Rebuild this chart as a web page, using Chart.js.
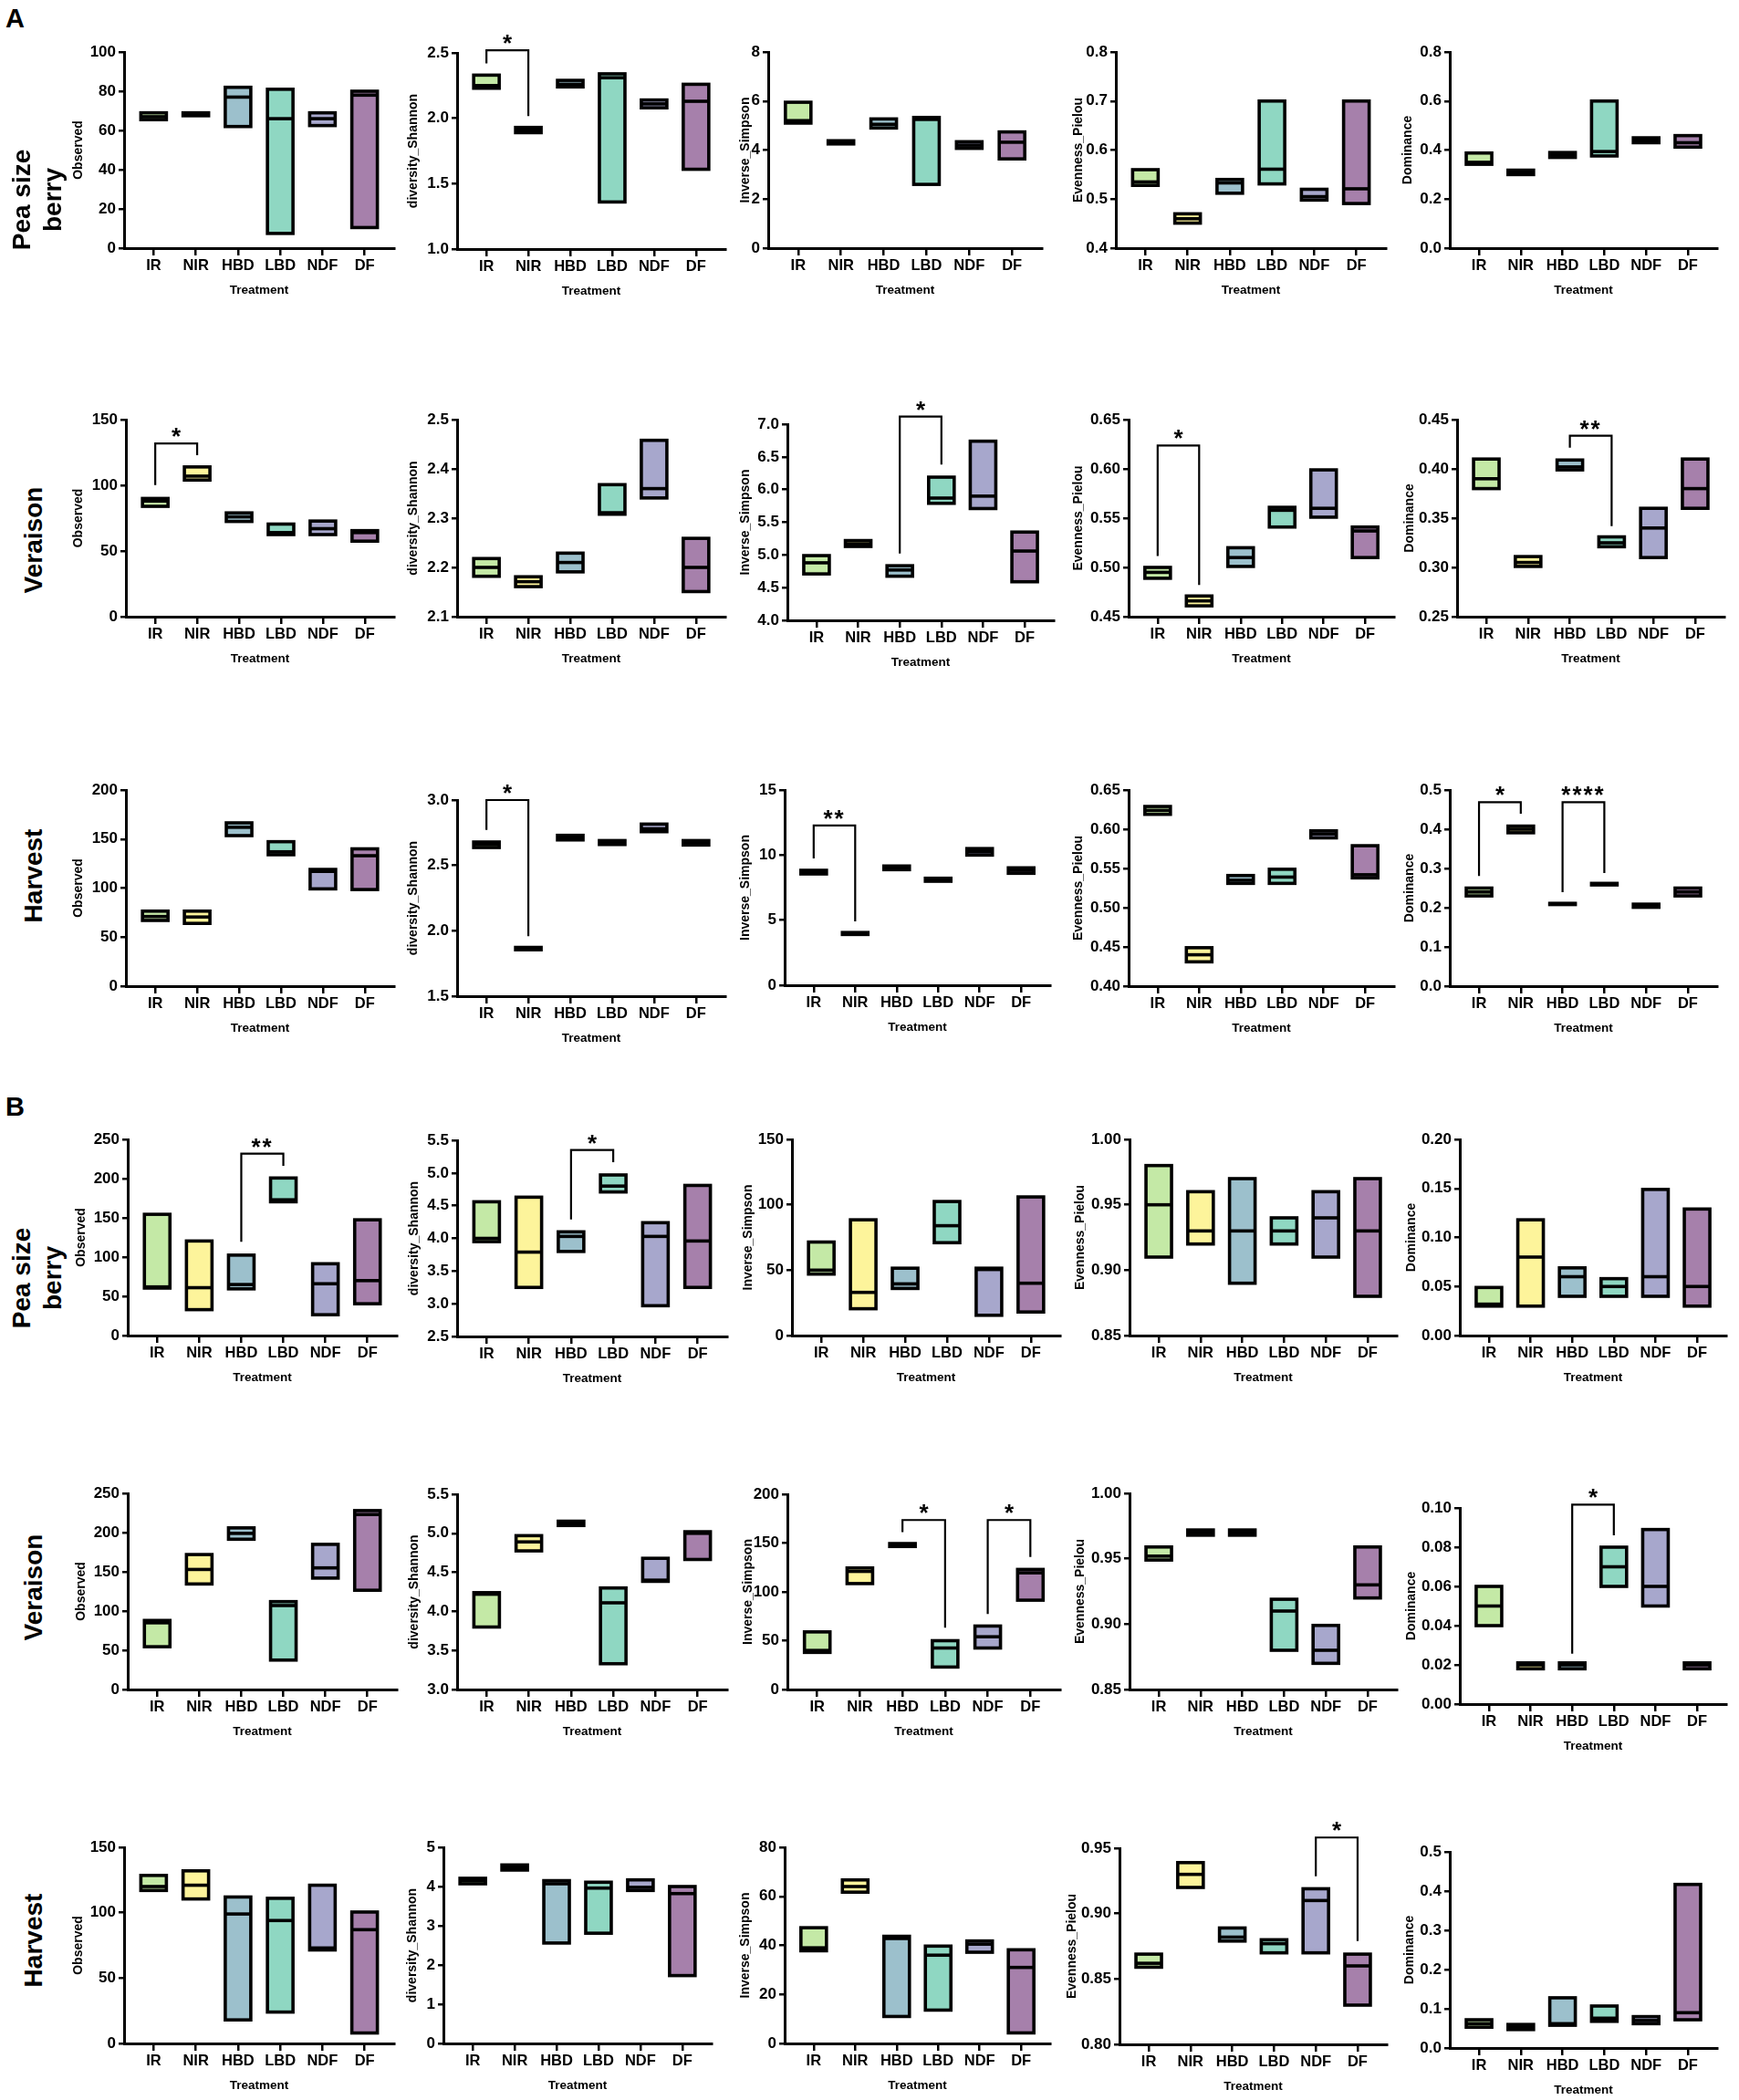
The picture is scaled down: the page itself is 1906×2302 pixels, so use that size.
<!DOCTYPE html>
<html>
<head>
<meta charset="utf-8">
<title>Alpha diversity</title>
<script src="https://cdn.jsdelivr.net/npm/chart.js@4.4.1/dist/chart.umd.min.js"></script>
<style>
  html, body { margin: 0; padding: 0; background: #fff; }
  #fig { position: relative; width: 1906px; height: 2302px; overflow: hidden; background: #fff; }
  .panel { position: absolute; }
  .letter { position: absolute; font: bold 29px 'Liberation Sans', Arial, sans-serif; line-height: 29px; color: #000; }
  .stage { position: absolute; width: 240px; height: 80px; display: flex; align-items: center; justify-content: center;
           text-align: center; transform: rotate(-90deg); font: bold 28px 'Liberation Sans', Arial, sans-serif;
           line-height: 34px; color: #000; }
</style>
</head>
<body>
<div id="fig"></div>
<script>
const treatments = ['IR', 'NIR', 'HBD', 'LBD', 'NDF', 'DF'];
const treatmentColors = ['#c4e9a6', '#fdf49b', '#9cc0cc', '#8fd7c2', '#a7a7cc', '#a680ab'];

// ---- A : pea size berry ----
const A_pea_obs = [[65.5, 69], [67.5, 69], [62, 82], [7.5, 81], [62.5, 69], [10.5, 80]];
const A_pea_obs_med = [67, 68, 77, 66, 66, 78];
const A_pea_obs_ticks = ['0', '20', '40', '60', '80', '100'];
const A_pea_sha = [[2.23, 2.33], [1.89, 1.93], [2.24, 2.29], [1.36, 2.34], [2.08, 2.14], [1.61, 2.26]];
const A_pea_sha_med = [2.25, 1.91, 2.26, 2.31, 2.11, 2.13];
const A_pea_sha_ticks = ['1.0', '1.5', '2.0', '2.5'];
const A_pea_sha_sig = [[0, 1, 2.52, 2.42, 2.016, '*']];
const A_pea_sim = [[5.1, 5.95], [4.25, 4.38], [4.9, 5.27], [2.6, 5.33], [4.07, 4.34], [3.64, 4.74]];
const A_pea_sim_med = [5.2, 4.3, 5.05, 5.25, 4.2, 4.32];
const A_pea_sim_ticks = ['0', '2', '4', '6', '8'];
const A_pea_pie = [[0.528, 0.56], [0.451, 0.47], [0.512, 0.54], [0.531, 0.7], [0.498, 0.52], [0.491, 0.7]];
const A_pea_pie_med = [0.535, 0.46, 0.533, 0.561, 0.505, 0.521];
const A_pea_pie_ticks = ['0.4', '0.5', '0.6', '0.7', '0.8'];
const A_pea_dom = [[0.342, 0.388], [0.30, 0.318], [0.37, 0.39], [0.376, 0.6], [0.43, 0.45], [0.412, 0.459]];
const A_pea_dom_med = [0.35, 0.31, 0.38, 0.394, 0.44, 0.43];
const A_pea_dom_ticks = ['0.0', '0.2', '0.4', '0.6', '0.8'];

// ---- A : veraison ----
const A_ver_obs = [[84, 90], [104, 114], [72.5, 79], [62.5, 70.5], [62.5, 72.8], [57.5, 65.5]];
const A_ver_obs_med = [88, 107, 76, 64, 67, 64];
const A_ver_obs_ticks = ['0', '50', '100', '150'];
const A_ver_obs_sig = [[0, 1, 131.9, 100.2, 122.9, '*']];
const A_ver_sha = [[2.182, 2.218], [2.161, 2.181], [2.191, 2.229], [2.308, 2.368], [2.341, 2.458], [2.151, 2.259]];
const A_ver_sha_med = [2.2, 2.171, 2.21, 2.311, 2.36, 2.2];
const A_ver_sha_ticks = ['2.1', '2.2', '2.3', '2.4', '2.5'];
const A_ver_sim = [[4.71, 4.99], [5.13, 5.22], [4.675, 4.835], [5.79, 6.19], [5.71, 6.74], [4.59, 5.35]];
const A_ver_sim_med = [4.88, 5.17, 4.77, 5.87, 5.9, 5.06];
const A_ver_sim_ticks = ['4.0', '4.5', '5.0', '5.5', '6.0', '6.5', '7.0'];
const A_ver_sim_sig = [[2, 3, 7.116, 5.023, 6.381, '*']];
const A_ver_pie = [[0.489, 0.5], [0.461, 0.471], [0.501, 0.52], [0.541, 0.561], [0.551, 0.599], [0.51, 0.541]];
const A_ver_pie_med = [0.495, 0.466, 0.51, 0.558, 0.56, 0.537];
const A_ver_pie_ticks = ['0.45', '0.50', '0.55', '0.60', '0.65'];
const A_ver_pie_sig = [[0, 1, 0.6237, 0.5115, 0.4822, '*']];
const A_ver_dom = [[0.38, 0.41], [0.301, 0.311], [0.399, 0.409], [0.321, 0.331], [0.31, 0.36], [0.36, 0.41]];
const A_ver_dom_med = [0.39, 0.305, 0.402, 0.325, 0.34, 0.38];
const A_ver_dom_ticks = ['0.25', '0.30', '0.35', '0.40', '0.45'];
const A_ver_dom_sig = [[2, 3, 0.4336, 0.4216, 0.3418, '**']];

// ---- A : harvest ----
const A_har_obs = [[67, 76.5], [64, 76.5], [153.5, 166.5], [134, 147.3], [99.2, 119], [98.5, 140]];
const A_har_obs_med = [71, 70.5, 162, 137, 117, 133];
const A_har_obs_ticks = ['0', '50', '100', '150', '200'];
const A_har_sha = [[2.637, 2.679], [1.855, 1.873], [2.695, 2.73], [2.66, 2.69], [2.758, 2.816], [2.656, 2.69]];
const A_har_sha_med = [2.66, 1.865, 2.71, 2.675, 2.78, 2.67];
const A_har_sha_ticks = ['1.5', '2.0', '2.5', '3.0'];
const A_har_sha_sig = [[0, 1, 3.0, 2.772, 1.958, '*']];
const A_har_sim = [[8.55, 8.83], [3.9, 4.05], [8.88, 9.16], [7.99, 8.22], [10.0, 10.5], [8.6, 9.02]];
const A_har_sim_med = [8.7, 3.98, 9.02, 8.1, 10.25, 8.83];
const A_har_sim_ticks = ['0', '5', '10', '15'];
const A_har_sim_sig = [[0, 1, 12.27, 9.74, 4.9, '**']];
const A_har_pie = [[0.619, 0.629], [0.431, 0.449], [0.531, 0.541], [0.531, 0.549], [0.589, 0.598], [0.538, 0.579]];
const A_har_pie_med = [0.624, 0.44, 0.535, 0.539, 0.594, 0.542];
const A_har_pie_ticks = ['0.40', '0.45', '0.50', '0.55', '0.60', '0.65'];
const A_har_dom = [[0.23, 0.25], [0.391, 0.408], [0.208, 0.211], [0.258, 0.262], [0.201, 0.209], [0.23, 0.25]];
const A_har_dom_med = [0.24, 0.4, 0.21, 0.26, 0.205, 0.24];
const A_har_dom_ticks = ['0.0', '0.1', '0.2', '0.3', '0.4', '0.5'];
const A_har_dom_sig = [[0, 1, 0.469, 0.2806, 0.4395, '*'], [2, 3, 0.469, 0.2395, 0.2884, '****']];

// ---- B : pea size berry ----
const B_pea_obs = [[60.5, 154.5], [33, 120.5], [59.5, 102.5], [170.5, 200.8], [26.5, 91.5], [40.5, 147.5]];
const B_pea_obs_med = [62, 61, 65, 173, 66, 70];
const B_pea_obs_ticks = ['0', '50', '100', '150', '200', '250'];
const B_pea_obs_sig = [[2, 3, 231.8, 119.4, 216.3, '**']];
const B_pea_sha = [[3.95, 4.56], [3.25, 4.63], [3.8, 4.1], [4.71, 4.97], [2.97, 4.24], [3.25, 4.81]];
const B_pea_sha_med = [4.0, 3.79, 4.03, 4.8, 4.03, 3.96];
const B_pea_sha_ticks = ['2.5', '3.0', '3.5', '4.0', '4.5', '5.0', '5.5'];
const B_pea_sha_sig = [[2, 3, 5.351, 4.291, 5.165, '*']];
const B_pea_sim = [[47, 71.5], [20.5, 88.5], [36, 51.5], [71, 102.5], [15.5, 51.5], [18, 106]];
const B_pea_sim_med = [50, 33, 39.5, 84, 50.5, 40];
const B_pea_sim_ticks = ['0', '50', '100', '150'];
const B_pea_pie = [[0.91, 0.98], [0.92, 0.96], [0.89, 0.97], [0.92, 0.94], [0.91, 0.96], [0.88, 0.97]];
const B_pea_pie_med = [0.95, 0.93, 0.93, 0.93, 0.94, 0.93];
const B_pea_pie_ticks = ['0.85', '0.90', '0.95', '1.00'];
const B_pea_dom = [[0.03, 0.049], [0.03, 0.118], [0.04, 0.069], [0.04, 0.058], [0.04, 0.149], [0.03, 0.129]];
const B_pea_dom_med = [0.032, 0.08, 0.06, 0.05, 0.06, 0.05];
const B_pea_dom_ticks = ['0.00', '0.05', '0.10', '0.15', '0.20'];

// ---- B : veraison ----
const B_ver_obs = [[54.5, 88], [134.5, 172], [191.5, 206], [37.5, 112], [142, 185], [126.5, 228]];
const B_ver_obs_med = [85, 153, 199, 107, 155, 223];
const B_ver_obs_ticks = ['0', '50', '100', '150', '200', '250'];
const B_ver_sha = [[3.8, 4.24], [4.775, 4.97], [5.1, 5.155], [3.33, 4.3], [4.385, 4.68], [4.665, 5.02]];
const B_ver_sha_med = [4.22, 4.89, 5.13, 4.11, 4.4, 5.0];
const B_ver_sha_ticks = ['3.0', '3.5', '4.0', '4.5', '5.0', '5.5'];
const B_ver_sim = [[38, 59], [108.5, 124.5], [146.5, 149.5], [23, 50], [42.5, 65], [91.5, 123]];
const B_ver_sim_med = [40, 121, 148, 42.5, 54, 119.5];
const B_ver_sim_ticks = ['0', '50', '100', '150', '200'];
const B_ver_sim_sig = [[2, 3, 173.6, 161.2, 63.4, '*'], [4, 5, 173.6, 77.3, 135.7, '*']];
const B_ver_pie = [[0.949, 0.959], [0.968, 0.972], [0.968, 0.972], [0.88, 0.919], [0.87, 0.899], [0.92, 0.959]];
const B_ver_pie_med = [0.952, 0.97, 0.97, 0.91, 0.88, 0.93];
const B_ver_pie_ticks = ['0.85', '0.90', '0.95', '1.00'];
const B_ver_dom = [[0.04, 0.06], [0.018, 0.021], [0.018, 0.021], [0.06, 0.08], [0.05, 0.089], [0.018, 0.021]];
const B_ver_dom_med = [0.05, 0.02, 0.02, 0.07, 0.06, 0.02];
const B_ver_dom_ticks = ['0.00', '0.02', '0.04', '0.06', '0.08', '0.10'];
const B_ver_dom_sig = [[2, 3, 0.1017, 0.0257, 0.086, '*']];

// ---- B : harvest ----
const B_har_obs = [[117, 128.5], [110.5, 132], [18, 112], [24, 111], [71.5, 121], [8, 100.5]];
const B_har_obs_med = [120, 121, 99, 94, 73, 87];
const B_har_obs_ticks = ['0', '50', '100', '150'];
const B_har_sha = [[4.07, 4.21], [4.42, 4.55], [2.56, 4.15], [2.81, 4.11], [3.9, 4.17], [1.73, 4.0]];
const B_har_sha_med = [4.15, 4.48, 4.07, 3.96, 3.98, 3.82];
const B_har_sha_ticks = ['0', '1', '2', '3', '4', '5'];
const B_har_sim = [[37.8, 47.2], [61.7, 66.7], [11, 43.7], [13.6, 39.7], [37.2, 41.8], [4.3, 38.2]];
const B_har_sim_med = [39, 64, 42.8, 36, 40.5, 31];
const B_har_sim_ticks = ['0', '20', '40', '60', '80'];
const B_har_pie = [[0.859, 0.869], [0.92, 0.939], [0.879, 0.889], [0.87, 0.88], [0.87, 0.919], [0.83, 0.869]];
const B_har_pie_med = [0.862, 0.93, 0.882, 0.877, 0.91, 0.86];
const B_har_pie_ticks = ['0.80', '0.85', '0.90', '0.95'];
const B_har_pie_sig = [[4, 5, 0.9582, 0.9286, 0.879, '*']];
const B_har_dom = [[0.053, 0.072], [0.047, 0.06], [0.058, 0.128], [0.068, 0.107], [0.062, 0.08], [0.072, 0.417]];
const B_har_dom_med = [0.062, 0.053, 0.062, 0.076, 0.07, 0.09];
const B_har_dom_ticks = ['0.0', '0.1', '0.2', '0.3', '0.4', '0.5'];

const T_OBS = 'Observed', T_SHA = 'diversity_Shannon', T_SIM = 'Inverse_Simpson',
      T_PIE = 'Evenness_Pielou', T_DOM = 'Dominance';

// box = [y-axis x, x-axis end, plot top, plot bottom, y title centre x] in page px
const panels = [
  [A_pea_obs, A_pea_obs_med, A_pea_obs_ticks, T_OBS, [], [136, 432, 57, 272, 86]],
  [A_pea_sha, A_pea_sha_med, A_pea_sha_ticks, T_SHA, A_pea_sha_sig, [501, 795, 58, 273, 453]],
  [A_pea_sim, A_pea_sim_med, A_pea_sim_ticks, T_SIM, [], [842, 1142, 57, 272, 817]],
  [A_pea_pie, A_pea_pie_med, A_pea_pie_ticks, T_PIE, [], [1223, 1519, 57, 272, 1182]],
  [A_pea_dom, A_pea_dom_med, A_pea_dom_ticks, T_DOM, [], [1589, 1882, 57, 272, 1543]],

  [A_ver_obs, A_ver_obs_med, A_ver_obs_ticks, T_OBS, A_ver_obs_sig, [138, 432, 460, 676, 86]],
  [A_ver_sha, A_ver_sha_med, A_ver_sha_ticks, T_SHA, [], [501, 795, 460, 676, 453]],
  [A_ver_sim, A_ver_sim_med, A_ver_sim_ticks, T_SIM, A_ver_sim_sig, [863, 1155, 465, 680, 817]],
  [A_ver_pie, A_ver_pie_med, A_ver_pie_ticks, T_PIE, A_ver_pie_sig, [1237, 1528, 460, 676, 1182]],
  [A_ver_dom, A_ver_dom_med, A_ver_dom_ticks, T_DOM, A_ver_dom_sig, [1597, 1890, 460, 676, 1545]],

  [A_har_obs, A_har_obs_med, A_har_obs_ticks, T_OBS, [], [138, 432, 866, 1081, 86]],
  [A_har_sha, A_har_sha_med, A_har_sha_ticks, T_SHA, A_har_sha_sig, [501, 795, 877, 1092, 453]],
  [A_har_sim, A_har_sim_med, A_har_sim_ticks, T_SIM, A_har_sim_sig, [860, 1151, 866, 1080, 817]],
  [A_har_pie, A_har_pie_med, A_har_pie_ticks, T_PIE, [], [1237, 1528, 866, 1081, 1182]],
  [A_har_dom, A_har_dom_med, A_har_dom_ticks, T_DOM, A_har_dom_sig, [1589, 1882, 866, 1081, 1545]],

  [B_pea_obs, B_pea_obs_med, B_pea_obs_ticks, T_OBS, B_pea_obs_sig, [140, 435, 1249, 1464, 89]],
  [B_pea_sha, B_pea_sha_med, B_pea_sha_ticks, T_SHA, B_pea_sha_sig, [501, 797, 1250, 1465, 454]],
  [B_pea_sim, B_pea_sim_med, B_pea_sim_ticks, T_SIM, [], [868, 1162, 1249, 1464, 820]],
  [B_pea_pie, B_pea_pie_med, B_pea_pie_ticks, T_PIE, [], [1238, 1531, 1249, 1464, 1184]],
  [B_pea_dom, B_pea_dom_med, B_pea_dom_ticks, T_DOM, [], [1600, 1892, 1249, 1464, 1547]],

  [B_ver_obs, B_ver_obs_med, B_ver_obs_ticks, T_OBS, [], [140, 435, 1637, 1852, 89]],
  [B_ver_sha, B_ver_sha_med, B_ver_sha_ticks, T_SHA, [], [501, 797, 1638, 1852, 454]],
  [B_ver_sim, B_ver_sim_med, B_ver_sim_ticks, T_SIM, B_ver_sim_sig, [863, 1162, 1638, 1852, 820]],
  [B_ver_pie, B_ver_pie_med, B_ver_pie_ticks, T_PIE, [], [1238, 1531, 1637, 1852, 1184]],
  [B_ver_dom, B_ver_dom_med, B_ver_dom_ticks, T_DOM, B_ver_dom_sig, [1600, 1892, 1653, 1868, 1547]],

  [B_har_obs, B_har_obs_med, B_har_obs_ticks, T_OBS, [], [136, 432, 2025, 2240, 86]],
  [B_har_sha, B_har_sha_med, B_har_sha_ticks, T_SHA, [], [486, 780, 2025, 2240, 452]],
  [B_har_sim, B_har_sim_med, B_har_sim_ticks, T_SIM, [], [860, 1151, 2025, 2240, 817]],
  [B_har_pie, B_har_pie_med, B_har_pie_ticks, T_PIE, B_har_pie_sig, [1227, 1520, 2026, 2241, 1175]],
  [B_har_dom, B_har_dom_med, B_har_dom_ticks, T_DOM, [], [1589, 1882, 2030, 2245, 1545]],
];

// is the narrow face installed? fall back to regular Liberation Sans if not
function fontInstalled(name) {
  const c = document.createElement('canvas').getContext('2d');
  c.font = 'bold 40px monospace';
  const ref = c.measureText('HBD NIR Treatment').width;
  c.font = "bold 40px '" + name + "', monospace";
  return c.measureText('HBD NIR Treatment').width !== ref;
}
const hasNarrow = fontInstalled('Liberation Sans Narrow');
const SANS = "'Liberation Sans', Arial, sans-serif";
const catFont = hasNarrow
  ? { family: "'Liberation Sans Narrow', " + SANS, size: 19, weight: 'bold', lineHeight: 1.2 }
  : { family: SANS, size: 16.5, weight: 'bold', lineHeight: 1.2 };
const xTitleFont = hasNarrow
  ? { family: "'Liberation Sans Narrow', " + SANS, size: 15.5, weight: 'bold', lineHeight: 1.2 }
  : { family: SANS, size: 13.5, weight: 'bold', lineHeight: 1.2 };
const yTickFont = { family: SANS, size: 17, weight: 'bold', lineHeight: 1.2 };
const yTitleFont = { family: SANS, size: 14, weight: 'bold', lineHeight: 1.2 };

Chart.defaults.color = '#000';

// outlines, medians and significance brackets
const boxPlugin = {
  id: 'boxes',
  afterDatasetsDraw(chart, args, opts) {
    const { ctx } = chart;
    const xs = chart.scales.x, ys = chart.scales.y;
    const meta = chart.getDatasetMeta(0);
    ctx.save();
    ctx.strokeStyle = '#000';
    ctx.lineJoin = 'miter';
    ctx.lineWidth = 3.6;
    meta.data.forEach((bar, i) => {
      const p = bar.getProps(['x', 'y', 'base', 'width'], true);
      const x0 = p.x - p.width / 2;
      ctx.strokeRect(x0, Math.min(p.y, p.base), p.width, Math.abs(p.base - p.y));
      const my = ys.getPixelForValue(opts.median[i]);
      ctx.beginPath();
      ctx.moveTo(x0, my);
      ctx.lineTo(x0 + p.width, my);
      ctx.stroke();
    });
    ctx.lineWidth = 2.2;
    ctx.font = 'bold 26px ' + SANS;
    ctx.textAlign = 'center';
    ctx.textBaseline = 'alphabetic';
    ctx.fillStyle = '#000';
    opts.sig.forEach(([a, b, top, endA, endB, label]) => {
      const xa = xs.getPixelForValue(a), xb = xs.getPixelForValue(b);
      const yt = ys.getPixelForValue(top);
      ctx.beginPath();
      ctx.moveTo(xa, ys.getPixelForValue(endA));
      ctx.lineTo(xa, yt);
      ctx.lineTo(xb, yt);
      ctx.lineTo(xb, ys.getPixelForValue(endB));
      ctx.stroke();
      ctx.letterSpacing = label.length > 1 ? '2px' : '0px';
      ctx.fillText(label, (xa + xb) / 2, yt + 1);
    });
    ctx.restore();
  }
};

const fig = document.getElementById('fig');
const PAD_TOP = 75, PAD_RIGHT = 14;

panels.forEach(([range, median, tickLabels, yTitle, sig, box]) => {
  const [axL, axR, top, bot, titleX] = box;
  const left = Math.round(titleX - yTitleFont.size * yTitleFont.lineHeight / 2);
  const cTop = top - PAD_TOP;
  const xH = Math.round(46 + xTitleFont.size * xTitleFont.lineHeight / 2);
  const w = axR - left + PAD_RIGHT;
  const h = bot - cTop + xH;
  const yW = axL - left;
  const tickVals = tickLabels.map(Number);

  const div = document.createElement('div');
  div.className = 'panel';
  div.style.left = left + 'px';
  div.style.top = cTop + 'px';
  const cv = document.createElement('canvas');
  cv.width = w; cv.height = h;
  cv.style.width = w + 'px'; cv.style.height = h + 'px';
  div.appendChild(cv);
  fig.appendChild(div);

  new Chart(cv.getContext('2d'), {
    type: 'bar',
    data: {
      datasets: [{
        data: range.map((r, i) => ({ x: i, y: r })),
        backgroundColor: treatmentColors,
        borderWidth: 0,
        barThickness: 28
      }]
    },
    options: {
      responsive: false,
      animation: false,
      events: [],
      layout: { padding: { top: PAD_TOP, right: PAD_RIGHT, left: 0, bottom: 0 } },
      plugins: {
        legend: { display: false },
        tooltip: { enabled: false },
        boxes: { median: median, sig: sig }
      },
      scales: {
        x: {
          type: 'linear',
          offset: false,
          min: -0.7,
          max: treatments.length - 0.3,
          afterBuildTicks: s => { s.ticks = treatments.map((_, i) => ({ value: i })); },
          afterFit: s => { s.height = xH; },
          ticks: { callback: v => treatments[v], font: catFont, color: '#000', padding: 2, maxRotation: 0, autoSkip: false },
          grid: { display: true, offset: false, drawOnChartArea: false, drawTicks: true, tickLength: 8, color: '#000', lineWidth: 2.5 },
          border: { display: true, color: '#000', width: 3 },
          title: { display: true, text: 'Treatment', font: xTitleFont, color: '#000', padding: 0 }
        },
        y: {
          type: 'linear',
          min: tickVals[0],
          max: tickVals[tickVals.length - 1],
          afterBuildTicks: s => { s.ticks = tickVals.map(v => ({ value: v })); },
          afterFit: s => { s.width = yW; },
          ticks: { callback: (v, i) => tickLabels[i], font: yTickFont, color: '#000', padding: 3 },
          grid: { display: true, drawOnChartArea: false, drawTicks: true, tickLength: 6, color: '#000', lineWidth: 2.5 },
          border: { display: true, color: '#000', width: 3 },
          title: { display: true, text: yTitle, font: yTitleFont, color: '#000', padding: 0 }
        }
      }
    },
    plugins: [boxPlugin]
  });
});

// section letters and stage labels
function addText(cls, html, x, y) {
  const d = document.createElement('div');
  d.className = cls;
  d.innerHTML = html;
  d.style.left = x + 'px';
  d.style.top = y + 'px';
  fig.appendChild(d);
}
addText('letter', 'A', 6, 6);
addText('letter', 'B', 6, 1199);
// stage labels: centre x, centre y
[['Pea size<br>berry', 41, 219], ['Veraison', 37, 592], ['Harvest', 37, 960],
 ['Pea size<br>berry', 41, 1401], ['Veraison', 37, 1740], ['Harvest', 37, 2127]]
  .forEach(([t, cx, cy]) => addText('stage', t, cx - 120, cy - 40));
</script>
</body>
</html>
